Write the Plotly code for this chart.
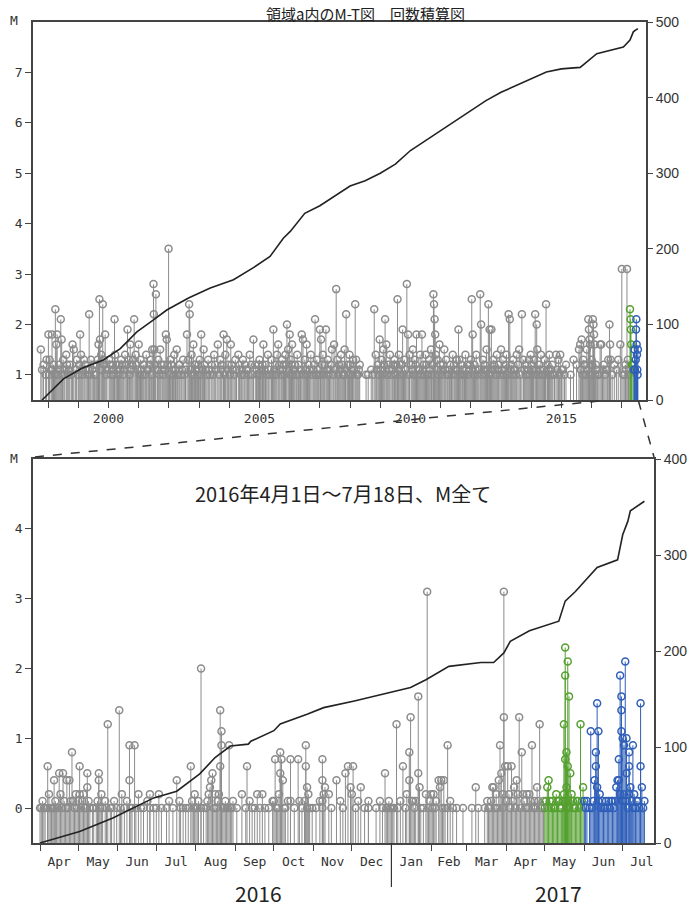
import plotly.graph_objects as go

# ---------------- top panel: M >= 1 events (decimal year, M) ----------------
top_t_1 = [1997.76, 1997.85, 1997.92, 1998.01, 1998.05, 1998.10, 1998.13, 1998.18, 1998.24, 1998.27,
           1998.30, 1998.33, 1998.36, 1998.42, 1998.45, 1998.50, 1998.55, 1998.60, 1998.66, 1998.72,
           1998.81, 1998.85, 1998.90, 1998.95, 1999.00, 1999.06, 1999.09, 1999.15, 1999.22, 1999.30,
           1999.34, 1999.36, 1999.42, 1999.50, 1999.58, 1999.64, 1999.67, 1999.70, 1999.72, 1999.76,
           1999.81, 1999.86, 1999.89, 1999.95, 2000.02, 2000.08, 2000.14, 2000.20, 2000.22, 2000.30,
           2000.36, 2000.42, 2000.48, 2000.55, 2000.63, 2000.67, 2000.72, 2000.78, 2000.85, 2000.90,
           2000.96, 2001.00, 2001.06, 2001.12, 2001.18, 2001.25, 2001.32, 2001.40, 2001.45, 2001.49,
           2001.50, 2001.52, 2001.55, 2001.57, 2001.65, 2001.71, 2001.78, 2001.84, 2001.90, 2001.93,
           2001.99, 2002.05, 2002.12, 2002.18, 2002.26, 2002.33, 2002.40, 2002.47, 2002.55, 2002.60,
           2002.64, 2002.67, 2002.69, 2002.75, 2002.81, 2002.88, 2002.95]
top_m_1 = [1.5, 1.2, 1.0, 1.8, 1.3, 1.1, 1.8, 1.2, 2.3, 1.6,
           1.8, 1.0, 1.2, 2.1, 1.7, 1.3, 1.1, 1.4, 1.0, 1.2,
           1.6, 1.5, 1.1, 1.3, 1.0, 1.8, 1.4, 1.1, 1.2, 1.0,
           1.1, 2.2, 1.3, 1.2, 1.0, 1.3, 1.6, 2.5, 1.7, 1.4,
           2.4, 1.2, 1.8, 1.1, 1.3, 1.0, 1.2, 2.1, 1.4, 1.1,
           1.2, 1.3, 1.0, 1.4, 1.9, 1.3, 1.6, 1.2, 2.1, 1.4,
           1.1, 1.6, 1.3, 1.0, 1.2, 1.4, 1.1, 1.3, 1.5, 2.8,
           2.2, 1.5, 1.2, 2.6, 1.3, 1.5, 1.1, 1.2, 1.8, 1.7,
           3.5, 1.3, 1.1, 1.4, 1.5, 1.2, 1.0, 1.3, 1.1, 1.8,
           1.3, 2.4, 2.2, 1.4, 1.6, 1.2, 1.0]

top_t_2 = [2003.02, 2003.07, 2003.15, 2003.22, 2003.30, 2003.36, 2003.42, 2003.50, 2003.56, 2003.62,
           2003.70, 2003.76, 2003.81, 2003.87, 2003.92, 2003.98, 2004.05, 2004.12, 2004.20, 2004.30,
           2004.38, 2004.45, 2004.52, 2004.60, 2004.68, 2004.80, 2004.86, 2004.93, 2005.00, 2005.06,
           2005.13, 2005.20, 2005.28, 2005.35, 2005.40, 2005.46, 2005.52, 2005.58, 2005.62, 2005.68,
           2005.75, 2005.80, 2005.86, 2005.91, 2005.95, 2006.00, 2006.04, 2006.08, 2006.12, 2006.18,
           2006.25, 2006.32, 2006.40, 2006.44, 2006.50, 2006.56, 2006.62, 2006.70, 2006.78, 2006.84,
           2006.90, 2006.96, 2007.00, 2007.04, 2007.10, 2007.16, 2007.20, 2007.26, 2007.32, 2007.40,
           2007.47, 2007.54, 2007.58, 2007.64, 2007.70, 2007.76, 2007.82, 2007.87, 2007.92, 2007.98,
           2008.05, 2008.10, 2008.17, 2008.20, 2008.26, 2008.32, 2008.53, 2008.60, 2008.70, 2008.80,
           2008.85, 2008.92, 2008.98]
top_m_2 = [1.3, 1.8, 1.5, 1.1, 1.3, 1.0, 1.2, 1.4, 1.1, 1.6,
           1.3, 1.2, 1.8, 1.4, 1.7, 1.2, 1.6, 1.1, 1.3, 1.4,
           1.0, 1.3, 1.2, 1.1, 1.4, 1.7, 1.2, 1.0, 1.3, 1.1,
           1.6, 1.2, 1.4, 1.0, 1.3, 1.9, 1.2, 1.4, 1.6, 1.1,
           1.3, 1.2, 1.4, 2.0, 1.5, 1.8, 1.3, 1.6, 1.1, 1.2,
           1.4, 1.0, 1.8, 1.7, 1.3, 1.6, 1.2, 1.4, 1.1, 2.1,
           1.3, 1.0, 1.9, 1.7, 1.4, 1.2, 1.9, 1.3, 1.1, 1.5,
           1.6, 2.7, 1.3, 1.2, 1.4, 1.0, 1.5, 2.2, 1.2, 1.4,
           1.1, 1.3, 2.4, 1.3, 1.0, 1.2, 1.0, 1.0, 1.1, 2.3,
           1.4, 1.2, 1.7]

top_t_3 = [2009.04, 2009.10, 2009.16, 2009.20, 2009.26, 2009.32, 2009.40, 2009.47, 2009.53, 2009.57,
           2009.62, 2009.68, 2009.74, 2009.80, 2009.88, 2009.92, 2009.97, 2010.02, 2010.08, 2010.14,
           2010.20, 2010.26, 2010.32, 2010.38, 2010.44, 2010.50, 2010.56, 2010.62, 2010.68, 2010.72,
           2010.76, 2010.78, 2010.80, 2010.82, 2010.84, 2010.90, 2010.96, 2011.02, 2011.08, 2011.12,
           2011.18, 2011.25, 2011.32, 2011.40, 2011.47, 2011.53, 2011.59, 2011.62, 2011.68, 2011.75,
           2011.82, 2011.88, 2011.94, 2012.00, 2012.03, 2012.06, 2012.12, 2012.18, 2012.24, 2012.31,
           2012.34, 2012.40, 2012.46, 2012.52, 2012.58, 2012.62, 2012.68, 2012.74, 2012.80, 2012.86,
           2012.92]
top_m_3 = [1.3, 1.5, 2.1, 1.6, 1.2, 1.4, 1.1, 1.3, 1.2, 2.5,
           1.4, 1.2, 1.9, 1.3, 2.8, 1.8, 1.4, 1.2, 1.5, 1.3,
           1.8, 1.1, 1.4, 1.8, 1.2, 1.4, 1.0, 1.3, 1.5, 1.2,
           2.6, 2.4, 2.1, 1.8, 1.4, 1.3, 1.6, 1.1, 1.2, 1.5,
           1.3, 1.0, 1.2, 1.4, 1.1, 1.3, 1.9, 1.3, 1.2, 1.0,
           1.4, 1.2, 1.1, 1.3, 2.5, 1.8, 1.2, 1.4, 1.1, 2.6,
           2.0, 1.3, 1.2, 1.5, 2.4, 1.9, 1.9, 1.3, 1.1, 1.4,
           1.2]

top_t_4 = [2013.00, 2013.06, 2013.12, 2013.18, 2013.25, 2013.29, 2013.34, 2013.40, 2013.46, 2013.52,
           2013.60, 2013.69, 2013.74, 2013.80, 2013.86, 2013.92, 2013.98, 2014.04, 2014.09, 2014.13,
           2014.18, 2014.20, 2014.26, 2014.32, 2014.38, 2014.44, 2014.49, 2014.54, 2014.60, 2014.66,
           2014.72, 2014.82, 2014.90, 2014.96, 2015.05, 2015.15, 2015.30, 2015.40, 2015.50, 2015.58,
           2015.62, 2015.67, 2015.72, 2015.78, 2015.84, 2015.89, 2015.91, 2015.93, 2015.95, 2016.00,
           2016.04, 2016.06, 2016.08, 2016.10, 2016.14, 2016.20, 2016.28, 2016.32, 2016.40, 2016.48,
           2016.55, 2016.59, 2016.61, 2016.63, 2016.75, 2016.88, 2016.95, 2017.00, 2017.08, 2017.12,
           2017.17, 2017.20, 2017.24]
top_m_4 = [1.5, 1.3, 1.1, 1.4, 2.2, 2.1, 1.2, 1.3, 1.1, 1.4,
           1.5, 2.2, 1.3, 1.2, 1.0, 1.3, 1.4, 1.1, 1.3, 2.2,
           2.0, 1.5, 1.2, 1.4, 1.0, 1.3, 2.4, 1.2, 1.4, 1.1,
           1.0, 1.4, 1.3, 1.4, 1.1, 1.2, 1.0, 1.3, 1.2, 1.5,
           1.6, 1.7, 1.3, 1.2, 1.5, 2.1, 1.9, 1.7, 1.6, 1.3,
           2.1, 2.0, 1.8, 1.6, 1.2, 1.0, 1.6, 1.6, 1.2, 1.1,
           1.3, 2.0, 1.6, 1.3, 1.2, 1.3, 1.6, 3.1, 1.0, 1.2,
           3.1, 1.3, 1.1]

# the many small (M 1.0-1.3) events forming the dense grey band
top_t_5 = [1997.80, 1997.95, 1998.03, 1998.15, 1998.21, 1998.39, 1998.48, 1998.63, 1998.69, 1998.77,
           1998.93, 1999.03, 1999.12, 1999.19, 1999.26, 1999.39, 1999.46, 1999.54, 1999.61, 1999.79,
           1999.84, 1999.92, 2000.05, 2000.11, 2000.17, 2000.26, 2000.33, 2000.39, 2000.45, 2000.51,
           2000.59, 2000.70, 2000.75, 2000.81, 2000.93, 2001.03, 2001.09, 2001.15, 2001.22, 2001.28,
           2001.36, 2001.43, 2001.62, 2001.68, 2001.74, 2001.81, 2001.87, 2001.96, 2002.02, 2002.08,
           2002.15, 2002.22, 2002.29, 2002.36, 2002.43, 2002.51, 2002.72, 2002.78, 2002.85, 2002.91,
           2002.98, 2003.05, 2003.11, 2003.18, 2003.26, 2003.33, 2003.46, 2003.53, 2003.66, 2003.73,
           2003.84, 2003.95, 2004.02, 2004.08, 2004.16, 2004.24, 2004.34, 2004.41, 2004.49, 2004.56,
           2004.64, 2004.72, 2004.76, 2004.90, 2004.97, 2005.03, 2005.10, 2005.16, 2005.24, 2005.31,
           2005.43, 2005.49, 2005.55, 2005.65, 2005.72, 2005.78, 2005.83, 2005.88, 2005.98, 2006.02,
           2006.06, 2006.10, 2006.15, 2006.22, 2006.29, 2006.36, 2006.47, 2006.53, 2006.59, 2006.66,
           2006.74, 2006.81, 2006.87, 2006.93, 2007.02, 2007.07, 2007.13, 2007.23, 2007.29, 2007.36,
           2007.44, 2007.51, 2007.61, 2007.67, 2007.73, 2007.79, 2007.85, 2007.95, 2008.01, 2008.08,
           2008.13, 2008.23, 2008.29, 2008.75, 2008.88, 2008.95]
top_m_5 = [1.1, 1.3, 1.0, 1.1, 1.0, 1.1, 1.0, 1.2, 1.1, 1.0,
           1.1, 1.2, 1.0, 1.3, 1.1, 1.0, 1.1, 1.0, 1.2, 1.1,
           1.3, 1.0, 1.2, 1.1, 1.0, 1.2, 1.0, 1.1, 1.2, 1.1,
           1.2, 1.0, 1.1, 1.3, 1.2, 1.0, 1.1, 1.2, 1.0, 1.1,
           1.2, 1.0, 1.1, 1.0, 1.2, 1.0, 1.1, 1.2, 1.0, 1.2,
           1.0, 1.1, 1.0, 1.2, 1.1, 1.0, 1.1, 1.0, 1.2, 1.1,
           1.2, 1.0, 1.1, 1.2, 1.0, 1.1, 1.0, 1.2, 1.0, 1.1,
           1.0, 1.1, 1.0, 1.2, 1.0, 1.1, 1.2, 1.1, 1.0, 1.1,
           1.0, 1.2, 1.0, 1.1, 1.2, 1.0, 1.2, 1.1, 1.0, 1.1,
           1.0, 1.1, 1.0, 1.2, 1.0, 1.1, 1.0, 1.2, 1.1, 1.0,
           1.2, 1.0, 1.1, 1.0, 1.2, 1.1, 1.0, 1.1, 1.0, 1.1,
           1.0, 1.2, 1.0, 1.1, 1.0, 1.2, 1.0, 1.1, 1.0, 1.2,
           1.0, 1.1, 1.0, 1.1, 1.2, 1.0, 1.1, 1.0, 1.2, 1.0,
           1.1, 1.0, 1.1, 1.0, 1.1, 1.0]

top_t_6 = [2009.01, 2009.07, 2009.13, 2009.23, 2009.29, 2009.36, 2009.43, 2009.50, 2009.60, 2009.65,
           2009.71, 2009.77, 2009.84, 2009.95, 2010.05, 2010.11, 2010.17, 2010.23, 2010.29, 2010.35,
           2010.41, 2010.47, 2010.53, 2010.59, 2010.65, 2010.70, 2010.87, 2010.93, 2010.99, 2011.05,
           2011.15, 2011.22, 2011.29, 2011.36, 2011.44, 2011.50, 2011.56, 2011.65, 2011.72, 2011.79,
           2011.85, 2011.91, 2011.97, 2012.09, 2012.15, 2012.21, 2012.27, 2012.37, 2012.43, 2012.49,
           2012.55, 2012.65, 2012.71, 2012.77, 2012.83, 2012.89, 2012.96, 2013.03, 2013.09, 2013.15,
           2013.21, 2013.32, 2013.37, 2013.43, 2013.49, 2013.56, 2013.64, 2013.77, 2013.83, 2013.89,
           2013.95, 2014.01, 2014.07, 2014.16, 2014.23, 2014.29, 2014.35, 2014.41, 2014.47, 2014.57,
           2014.63, 2014.69, 2014.77, 2014.86, 2014.93, 2015.00, 2015.10, 2015.64, 2015.70, 2015.75,
           2015.81, 2015.87, 2015.97, 2016.02, 2016.12, 2016.17, 2016.24, 2016.36, 2016.44, 2016.52,
           2016.68, 2016.82, 2017.04, 2017.14, 2017.22]
top_m_6 = [1.1, 1.0, 1.2, 1.0, 1.1, 1.0, 1.2, 1.0, 1.1, 1.0,
           1.2, 1.0, 1.1, 1.0, 1.1, 1.0, 1.2, 1.0, 1.1, 1.0,
           1.1, 1.0, 1.2, 1.0, 1.1, 1.0, 1.1, 1.0, 1.2, 1.0,
           1.1, 1.0, 1.1, 1.0, 1.2, 1.0, 1.1, 1.0, 1.1, 1.0,
           1.1, 1.0, 1.2, 1.0, 1.1, 1.0, 1.1, 1.0, 1.1, 1.0,
           1.1, 1.0, 1.1, 1.2, 1.0, 1.1, 1.0, 1.1, 1.0, 1.2,
           1.0, 1.1, 1.0, 1.1, 1.0, 1.2, 1.0, 1.1, 1.0, 1.1,
           1.0, 1.2, 1.0, 1.1, 1.0, 1.1, 1.0, 1.1, 1.0, 1.1,
           1.0, 1.2, 1.0, 1.1, 1.0, 1.1, 1.0, 1.1, 1.0, 1.2,
           1.0, 1.1, 1.0, 1.2, 1.0, 1.1, 1.0, 1.1, 1.0, 1.1,
           1.0, 1.1, 1.0, 1.1, 1.0]

top_green_t = [2017.27, 2017.29, 2017.30, 2017.31, 2017.33, 2017.37]
top_green_m = [2.3, 2.1, 1.9, 1.6, 1.2, 1.2]
top_blue_t = [2017.40, 2017.42, 2017.43, 2017.46, 2017.47, 2017.48, 2017.49, 2017.50, 2017.51, 2017.52, 2017.53]
top_blue_m = [1.1, 1.5, 1.1, 1.3, 1.9, 2.1, 1.6, 1.4, 1.1, 1.0, 1.5]

# cumulative count
top_cum_t = [1997.80, 1998.51, 1999.12, 1999.83, 2000.39, 2000.94, 2001.49, 2001.93, 2002.65, 2003.37,
             2004.14, 2004.80, 2005.35, 2005.79, 2006.02, 2006.50, 2007.00, 2007.50, 2008.00, 2008.50,
             2009.00, 2009.50, 2010.00, 2010.50, 2011.00, 2011.50, 2012.00, 2012.50, 2013.00, 2013.50,
             2014.00, 2014.50, 2015.00, 2015.62, 2016.17, 2016.72, 2017.05, 2017.27, 2017.38, 2017.44,
             2017.53]
top_cum_n = [0, 28, 42, 53, 68, 90, 106, 119, 135, 148,
             159, 175, 190, 214, 223, 247, 257, 270, 283, 290,
             300, 312, 330, 343, 356, 370, 383, 396, 407, 416,
             426, 434, 438, 440, 458, 463, 467, 476, 487, 489,
             491]

# ---------------- bottom panel: all M, 2016-04-01 .. 2017-07-18 ----------------
bot_gray_d = ["2016-04-01", "2016-04-04", "2016-04-07", "2016-04-07", "2016-04-10", "2016-04-12", "2016-04-12", "2016-04-14", "2016-04-16", "2016-04-17",
              "2016-04-19", "2016-04-21", "2016-04-22", "2016-04-24", "2016-04-26", "2016-04-27", "2016-04-29", "2016-05-01", "2016-05-02", "2016-05-02",
              "2016-05-04", "2016-05-06", "2016-05-08", "2016-05-08", "2016-05-12", "2016-05-15", "2016-05-17", "2016-05-17", "2016-05-19", "2016-05-22",
              "2016-05-24", "2016-05-26", "2016-05-29", "2016-06-02", "2016-06-04", "2016-06-06", "2016-06-10", "2016-06-10", "2016-06-12", "2016-06-14",
              "2016-06-17", "2016-06-21", "2016-06-26", "2016-06-26", "2016-07-01", "2016-07-03", "2016-07-09", "2016-07-14", "2016-07-17", "2016-07-19",
              "2016-07-20", "2016-07-24", "2016-07-28", "2016-07-29", "2016-08-02", "2016-08-05", "2016-08-05", "2016-08-09", "2016-08-11", "2016-08-12",
              "2016-08-13", "2016-08-14", "2016-08-17", "2016-08-19", "2016-08-20", "2016-08-20", "2016-08-21", "2016-08-21", "2016-08-23", "2016-08-26",
              "2016-08-27", "2016-08-28", "2016-09-06", "2016-09-09", "2016-09-10", "2016-09-12", "2016-09-14", "2016-09-16", "2016-09-18", "2016-09-22",
              "2016-09-24", "2016-09-30", "2016-10-02", "2016-10-04", "2016-10-06", "2016-10-06", "2016-10-07", "2016-10-08", "2016-10-10", "2016-10-14",
              "2016-10-14", "2016-10-20", "2016-10-21", "2016-10-26", "2016-10-26", "2016-10-27", "2016-10-27", "2016-10-28", "2016-11-08", "2016-11-08",
              "2016-11-08", "2016-11-08", "2016-11-10", "2016-11-13", "2016-11-19", "2016-11-26", "2016-11-28", "2016-11-30", "2016-12-01", "2016-12-02",
              "2016-12-08", "2016-12-14", "2016-12-14", "2016-12-25", "2016-12-27", "2016-12-28", "2016-12-31", "2017-01-03", "2017-01-05", "2017-01-10",
              "2017-01-15", "2017-01-15", "2017-01-16", "2017-01-17", "2017-01-18", "2017-01-22", "2017-01-22", "2017-01-23", "2017-01-28", "2017-01-29",
              "2017-02-01", "2017-02-03", "2017-02-04", "2017-02-07", "2017-02-08", "2017-02-09", "2017-02-11", "2017-02-14", "2017-02-14", "2017-02-18",
              "2017-02-26", "2017-03-05", "2017-03-08", "2017-03-15", "2017-03-18", "2017-03-21", "2017-03-22", "2017-03-24", "2017-03-26", "2017-03-27",
              "2017-03-28", "2017-03-30", "2017-03-30", "2017-03-31", "2017-04-02", "2017-04-03", "2017-04-05", "2017-04-07", "2017-04-09", "2017-04-11",
              "2017-04-13", "2017-04-14", "2017-04-17", "2017-04-19", "2017-04-21", "2017-04-23", "2017-04-25", "2017-04-27", "2017-04-29"]
bot_gray_m = [0.0, 0.0, 0.6, 0.0, 0.0, 0.4, 0.0, 0.0, 0.5, 0.2,
              0.5, 0.0, 0.4, 0.4, 0.8, 0.1, 0.2, 0.1, 0.6, 0.2,
              0.1, 0.0, 0.5, 0.3, 0.0, 0.0, 0.5, 0.4, 0.2, 0.1,
              1.2, 0.0, 0.1, 1.4, 0.2, 0.0, 0.9, 0.4, 0.0, 0.9,
              0.2, 0.0, 0.2, 0.0, 0.0, 0.2, 0.0, 0.0, 0.4, 0.1,
              0.0, 0.0, 0.6, 0.1, 0.0, 2.0, 0.0, 0.0, 0.2, 0.3,
              0.4, 0.5, 0.0, 0.2, 1.4, 0.6, 1.1, 0.9, 0.0, 0.0,
              0.9, 0.0, 0.2, 0.0, 0.6, 0.1, 0.0, 0.0, 0.2, 0.2,
              0.0, 0.1, 0.7, 0.0, 0.8, 0.5, 0.7, 0.4, 0.0, 0.7,
              0.1, 0.7, 0.1, 0.9, 0.6, 0.3, 0.0, 0.2, 0.7, 0.4,
              0.1, 0.0, 0.3, 0.2, 0.4, 0.5, 0.6, 0.3, 0.2, 0.6,
              0.3, 0.1, 0.0, 0.0, 0.5, 0.0, 0.0, 0.0, 1.2, 0.6,
              0.8, 0.4, 1.3, 0.1, 0.1, 1.6, 0.5, 0.3, 0.2, 3.1,
              0.2, 0.2, 0.0, 0.4, 0.3, 0.4, 0.4, 0.9, 0.0, 0.0,
              0.0, 0.0, 0.3, 0.0, 0.0, 0.3, 0.3, 0.2, 0.4, 0.9,
              0.5, 3.1, 1.3, 0.6, 0.6, 0.2, 0.6, 0.3, 0.4, 1.3,
              0.8, 0.2, 0.2, 0.2, 0.9, 0.1, 0.3, 1.2, 0.0]

# additional small events near the baseline
bot_gray_d2 = ["2016-04-02", "2016-04-03", "2016-04-05", "2016-04-08", "2016-04-09", "2016-04-11", "2016-04-13", "2016-04-15", "2016-04-18", "2016-04-20",
               "2016-04-23", "2016-04-25", "2016-04-28", "2016-04-30", "2016-05-03", "2016-05-05", "2016-05-07", "2016-05-09", "2016-05-10", "2016-05-13",
               "2016-05-16", "2016-05-18", "2016-05-20", "2016-05-23", "2016-05-27", "2016-05-31", "2016-06-03", "2016-06-08", "2016-06-11", "2016-06-15",
               "2016-06-19", "2016-06-24", "2016-06-29", "2016-07-05", "2016-07-11", "2016-07-22", "2016-07-26", "2016-07-30", "2016-07-31", "2016-08-01",
               "2016-08-03", "2016-08-07", "2016-08-10", "2016-08-15", "2016-08-16", "2016-08-18", "2016-08-22", "2016-08-24", "2016-08-25", "2016-08-29",
               "2016-08-30", "2016-09-02", "2016-09-20", "2016-09-27", "2016-10-01", "2016-10-03", "2016-10-05", "2016-10-09", "2016-10-12", "2016-10-17",
               "2016-10-23", "2016-10-25", "2016-10-29", "2016-10-31", "2016-11-03", "2016-11-06", "2016-11-09", "2016-11-15", "2016-11-22", "2016-11-24",
               "2016-12-04", "2016-12-06", "2016-12-11", "2016-12-20", "2016-12-23", "2016-12-29", "2016-12-30", "2017-01-01", "2017-01-02", "2017-01-06",
               "2017-01-08", "2017-01-12", "2017-01-13", "2017-01-19", "2017-01-20", "2017-01-24", "2017-01-26", "2017-01-30", "2017-01-31", "2017-02-02",
               "2017-02-05", "2017-02-10", "2017-02-12", "2017-02-16", "2017-02-21", "2017-03-10", "2017-03-17", "2017-03-19", "2017-03-20", "2017-03-23",
               "2017-03-25", "2017-03-29", "2017-03-29", "2017-04-01", "2017-04-04", "2017-04-06", "2017-04-08", "2017-04-10", "2017-04-12", "2017-04-15",
               "2017-04-16", "2017-04-18", "2017-04-20", "2017-04-22", "2017-04-24", "2017-04-26", "2017-04-28", "2017-04-30"]
bot_gray_m2 = [0.0, 0.1, 0.0, 0.2, 0.0, 0.0, 0.1, 0.0, 0.0, 0.1,
               0.0, 0.1, 0.0, 0.0, 0.0, 0.2, 0.0, 0.1, 0.0, 0.0,
               0.1, 0.0, 0.0, 0.0, 0.0, 0.0, 0.0, 0.1, 0.0, 0.0,
               0.0, 0.1, 0.0, 0.0, 0.1, 0.0, 0.0, 0.0, 0.2, 0.0,
               0.1, 0.0, 0.1, 0.0, 0.2, 0.1, 0.0, 0.1, 0.0, 0.0,
               0.1, 0.0, 0.0, 0.0, 0.1, 0.0, 0.2, 0.0, 0.1, 0.0,
               0.0, 0.1, 0.0, 0.0, 0.0, 0.1, 0.2, 0.0, 0.1, 0.0,
               0.0, 0.1, 0.0, 0.0, 0.1, 0.0, 0.1, 0.0, 0.0, 0.0,
               0.1, 0.0, 0.2, 0.0, 0.1, 0.0, 0.0, 0.0, 0.1, 0.0,
               0.1, 0.0, 0.0, 0.1, 0.0, 0.0, 0.1, 0.0, 0.1, 0.0,
               0.0, 0.2, 0.0, 0.1, 0.0, 0.1, 0.0, 0.2, 0.0, 0.1,
               0.0, 0.0, 0.1, 0.0, 0.0, 0.1, 0.0, 0.1]

bot_green_d = ["2017-05-01", "2017-05-02", "2017-05-03", "2017-05-04", "2017-05-05", "2017-05-06", "2017-05-07", "2017-05-08", "2017-05-09", "2017-05-10",
               "2017-05-11", "2017-05-12", "2017-05-13", "2017-05-14", "2017-05-15", "2017-05-16", "2017-05-16", "2017-05-17", "2017-05-17", "2017-05-17",
               "2017-05-17", "2017-05-18", "2017-05-18", "2017-05-18", "2017-05-19", "2017-05-19", "2017-05-19", "2017-05-20", "2017-05-20", "2017-05-21",
               "2017-05-22", "2017-05-23", "2017-05-24", "2017-05-25", "2017-05-26", "2017-05-27", "2017-05-28", "2017-05-29", "2017-05-30", "2017-05-31"]
bot_green_m = [0.0, 0.1, 0.3, 0.4, 0.1, 0.0, 0.1, 0.0, 0.0, 0.2,
               0.1, 0.1, 0.0, 0.0, 0.1, 1.2, 0.2, 2.3, 1.9, 0.7,
               0.1, 0.3, 0.8, 0.0, 2.1, 0.6, 0.1, 1.6, 0.0, 0.5,
               0.2, 0.1, 0.0, 0.0, 0.1, 0.1, 0.0, 1.2, 0.1, 0.3]

bot_blue_d = ["2017-06-01", "2017-06-02", "2017-06-03", "2017-06-05", "2017-06-06", "2017-06-07", "2017-06-08", "2017-06-09", "2017-06-10", "2017-06-10",
              "2017-06-11", "2017-06-11", "2017-06-12", "2017-06-12", "2017-06-13", "2017-06-14", "2017-06-15", "2017-06-16", "2017-06-17", "2017-06-18",
              "2017-06-19", "2017-06-20", "2017-06-21", "2017-06-22", "2017-06-23", "2017-06-24", "2017-06-25", "2017-06-26", "2017-06-27", "2017-06-28",
              "2017-06-28", "2017-06-29", "2017-06-29", "2017-06-30", "2017-06-30", "2017-06-30", "2017-07-01", "2017-07-01", "2017-07-02", "2017-07-02",
              "2017-07-03", "2017-07-03", "2017-07-04", "2017-07-04", "2017-07-05", "2017-07-06", "2017-07-06", "2017-07-06", "2017-07-07", "2017-07-08",
              "2017-07-09", "2017-07-09", "2017-07-10", "2017-07-11", "2017-07-12", "2017-07-13", "2017-07-14", "2017-07-15", "2017-07-15", "2017-07-16",
              "2017-07-17", "2017-07-18"]
bot_blue_m = [0.1, 0.0, 0.1, 0.0, 1.1, 0.0, 0.1, 0.4, 0.8, 0.6,
              1.5, 0.3, 1.1, 0.1, 0.2, 0.0, 0.1, 0.0, 0.0, 0.1,
              0.0, 0.1, 0.0, 0.1, 0.1, 0.0, 0.1, 0.3, 0.4, 0.7,
              0.4, 1.9, 0.2, 1.4, 1.1, 1.6, 1.0, 0.1, 0.9, 0.2,
              2.1, 0.1, 1.0, 0.5, 0.0, 0.8, 0.6, 0.2, 0.3, 0.1,
              0.9, 0.0, 0.2, 0.0, 0.1, 0.1, 0.0, 1.5, 0.6, 0.3,
              0.0, 0.1]

bot_cum_d = ["2016-04-01", "2016-05-02", "2016-05-28", "2016-06-29", "2016-07-17", "2016-08-04", "2016-08-16", "2016-08-28", "2016-09-11", "2016-09-13",
             "2016-10-01", "2016-10-06", "2016-10-27", "2016-11-09", "2016-12-03", "2016-12-26", "2017-01-16", "2017-01-28", "2017-02-15", "2017-03-12",
             "2017-03-22", "2017-03-30", "2017-04-04", "2017-04-19", "2017-05-12", "2017-05-17", "2017-05-25", "2017-06-11", "2017-06-27", "2017-07-01",
             "2017-07-05", "2017-07-07", "2017-07-18"]
bot_cum_n = [0, 12, 26, 47, 54, 72, 89, 101, 103, 106,
             117, 124, 134, 141, 148, 155, 162, 170, 184, 188,
             188, 198, 210, 221, 231, 252, 262, 287, 295, 321,
             335, 346, 356]

month_ticks_start = "2016-04-01"
top_year_ticks = list(range(1998, 2018))
top_year_labels = {2000: "2000", 2005: "2005", 2010: "2010", 2015: "2015"}

# ---------------- layout geometry (pixels) ----------------
W, H = 690, 908
ML, MR, MT, MB = 33, 36, 22, 65
PW, PH = W - ML - MR, H - MT - MB


def px(xp):
    return (xp - ML) / PW


def py(yp):
    return (H - MB - yp) / PH


GRAY = "#8c8c8c"
GREEN = "#55a030"
BLUE = "#2f5fb8"
FONT_MONO = "DejaVu Sans Mono"


def stem_xy(t, m, base):
    xs, ys = [], []
    for a, b in zip(t, m):
        xs += [a, a, None]
        ys += [base, b, None]
    return xs, ys


fig = go.Figure()

top_t = top_t_1 + top_t_2 + top_t_3 + top_t_4 + top_t_5 + top_t_6
top_m = top_m_1 + top_m_2 + top_m_3 + top_m_4 + top_m_5 + top_m_6
bot_d = bot_gray_d + bot_gray_d2
bot_m = bot_gray_m + bot_gray_m2

TOP_BASE, BOT_BASE = 0.5, -0.5

for (t, m, col) in [(top_t, top_m, GRAY), (top_green_t, top_green_m, GREEN), (top_blue_t, top_blue_m, BLUE)]:
    sx, sy = stem_xy(t, m, TOP_BASE)
    fig.add_trace(go.Scatter(x=sx, y=sy, mode="lines", line=dict(color=col, width=1),
                             xaxis="x", yaxis="y", hoverinfo="skip", showlegend=False))
    fig.add_trace(go.Scatter(x=t, y=m, mode="markers",
                             marker=dict(symbol="circle-open", size=7, color=col, line=dict(width=1.5)),
                             xaxis="x", yaxis="y", showlegend=False))
fig.add_trace(go.Scatter(x=top_cum_t, y=top_cum_n, mode="lines", line=dict(color="#222", width=1.6),
                         xaxis="x", yaxis="y2", showlegend=False))

for (d, m, col) in [(bot_d, bot_m, GRAY), (bot_green_d, bot_green_m, GREEN), (bot_blue_d, bot_blue_m, BLUE)]:
    sx, sy = stem_xy(d, m, BOT_BASE)
    fig.add_trace(go.Scatter(x=sx, y=sy, mode="lines", line=dict(color=col, width=1),
                             xaxis="x2", yaxis="y3", hoverinfo="skip", showlegend=False))
    fig.add_trace(go.Scatter(x=d, y=m, mode="markers",
                             marker=dict(symbol="circle-open", size=7, color=col, line=dict(width=1.5)),
                             xaxis="x2", yaxis="y3", showlegend=False))
fig.add_trace(go.Scatter(x=bot_cum_d, y=bot_cum_n, mode="lines", line=dict(color="#222", width=1.6),
                         xaxis="x2", yaxis="y4", showlegend=False))

axis_common = dict(showgrid=False, zeroline=False, showline=True, linecolor="#444", linewidth=1.5,
                   ticks="outside", ticklen=6, tickcolor="#444", tickwidth=1.2, automargin=False,
                   tickfont=dict(family=FONT_MONO, size=13, color="#333"))
right_axis = {**axis_common, "tickfont": dict(family="Liberation Sans", size=14, color="#333"),
              "showline": False}

top_dom_y = [py(400), py(22)]
bot_dom_y = [py(843), py(459)]

fig.update_layout(
    width=W, height=H, paper_bgcolor="white", plot_bgcolor="white",
    margin=dict(l=ML, r=MR, t=MT, b=MB, autoexpand=False),
    showlegend=False,
    xaxis=dict(domain=[0, px(646)], range=[1997.5, 2017.8], anchor="y", mirror=True,
               tickmode="array", tickvals=top_year_ticks,
               ticktext=[top_year_labels.get(v, "") for v in top_year_ticks], **axis_common),
    yaxis=dict(domain=top_dom_y, range=[0.5, 8], anchor="x", mirror=True,
               tickmode="array", tickvals=[1, 2, 3, 4, 5, 6, 7], **axis_common),
    yaxis2=dict(domain=top_dom_y, range=[0, 500], overlaying="y", side="right", anchor="x",
                tickmode="array", tickvals=[0, 100, 200, 300, 400, 500], **right_axis),
    xaxis2=dict(domain=[0, 1], type="date", range=["2016-03-26 12:00", "2017-07-25 12:00"], anchor="y3",
                mirror=True, dtick="M1", tick0=month_ticks_start, tickformat="%b", ticklabelmode="period",
                **axis_common),
    yaxis3=dict(domain=bot_dom_y, range=[-0.5, 5], anchor="x2", mirror=True,
                tickmode="array", tickvals=[0, 1, 2, 3, 4], **axis_common),
    yaxis4=dict(domain=bot_dom_y, range=[0, 400], overlaying="y3", side="right", anchor="x2",
                tickmode="array", tickvals=[0, 100, 200, 300, 400], **right_axis),
)

# dashed connector lines between panels (zoomed period)
x_zoom_start = px(ML + (2016.25 - 1997.5) / (2017.8 - 1997.5) * (646 - ML))
x_zoom_end = px(ML + (2017.55 - 1997.5) / (2017.8 - 1997.5) * (646 - ML))
fig.add_shape(type="line", xref="paper", yref="paper", x0=x_zoom_start, y0=py(401), x1=px(34), y1=py(457),
              line=dict(color="#333", width=1.5, dash="dash"))
fig.add_shape(type="line", xref="paper", yref="paper", x0=x_zoom_end, y0=py(401), x1=px(654), y1=py(457),
              line=dict(color="#333", width=1.5, dash="dash"))
# year separator
fig.add_shape(type="line", xref="x2", yref="paper", x0="2017-01-01", x1="2017-01-01", y0=py(843), y1=py(887),
              line=dict(color="#333", width=1.2))

ann = [
    dict(text="M", x=px(14), y=py(21), xanchor="center", yanchor="middle",
         font=dict(family=FONT_MONO, size=13, color="#333")),
    dict(text="M", x=px(14), y=py(458), xanchor="center", yanchor="middle",
         font=dict(family=FONT_MONO, size=13, color="#333")),
    dict(text="2016年4月1日～7月18日、M全て", x=px(343), y=py(493), xanchor="center", yanchor="middle",
         font=dict(family="Noto Sans CJK JP", size=20, color="#222")),
    dict(text="2016", x=px(258), y=py(893), xanchor="center", yanchor="middle",
         font=dict(family="Noto Sans CJK JP", size=21, color="#222")),
    dict(text="2017", x=px(558), y=py(893), xanchor="center", yanchor="middle",
         font=dict(family="Noto Sans CJK JP", size=21, color="#222")),
    dict(text="領域a内のM-T図　回数積算図", x=px(365), y=py(1), xanchor="center", yanchor="top",
         font=dict(family="Noto Sans CJK JP", size=15, color="#222")),
]
for a in ann:
    fig.add_annotation(xref="paper", yref="paper", showarrow=False, **a)

fig.write_html("out.html", config={"displayModeBar": False},
               post_script="document.body.style.margin='0';document.body.style.overflow='hidden';")
